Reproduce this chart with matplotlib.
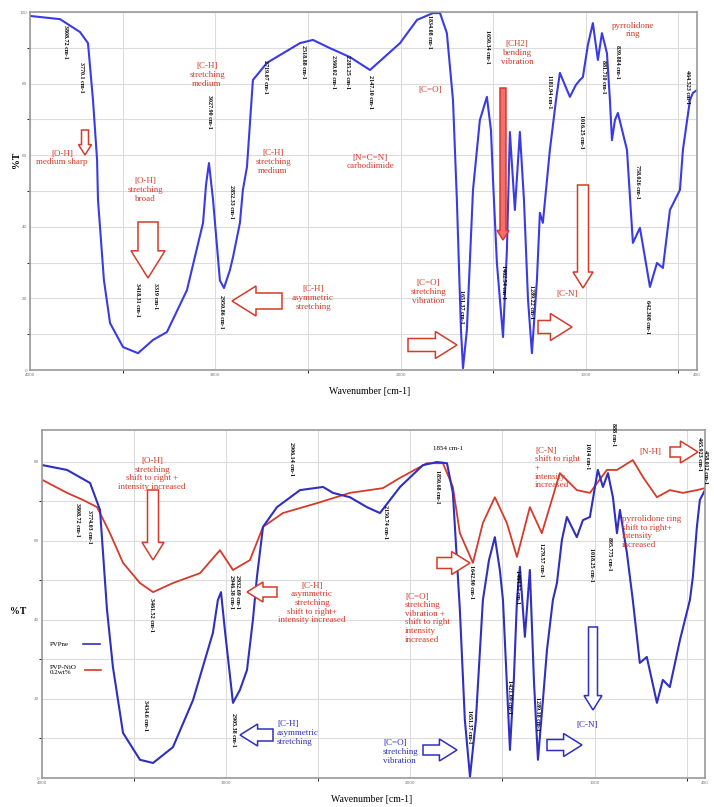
import matplotlib
matplotlib.use("Agg")
import matplotlib.pyplot as plt
from matplotlib.patches import FancyArrow

W, H = 714, 807

# spectrum 1 (top panel) - PVP
top_wn = [4000, 3838, 3730, 3687, 3660, 3638, 3633, 3601, 3568, 3498, 3417, 3336, 3261,
          3153, 3066, 3050, 3034, 3012, 2975, 2953, 2921, 2904, 2867, 2851, 2829, 2797,
          2721, 2543, 2473, 2381, 2273, 2165, 2003, 1911, 1825, 1787, 1750, 1717, 1696,
          1674, 1663, 1642, 1609, 1572, 1534, 1512, 1501, 1480, 1447, 1426, 1410, 1383,
          1356, 1334, 1312, 1291, 1264, 1248, 1232, 1194, 1161, 1140, 1113, 1086, 1054,
          1032, 1016, 989, 962, 935, 913, 886, 870, 859, 843, 827, 778, 746, 708, 654,
          616, 584, 546, 492, 476, 438, 422, 400]
top_T = [98.9, 98.0, 94.4, 91.3, 75.4, 58.7, 47.5, 25.1, 13.1, 6.4, 4.7, 8.4, 10.6,
         22.3, 41.1, 51.7, 57.8, 47.5, 25.0, 22.9, 27.9, 31.6, 41.1, 50.3, 56.7, 81.0,
         85.8, 91.3, 92.2, 89.9, 87.4, 83.8, 91.3, 97.8, 99.7, 99.7, 94.1, 75.4, 47.5,
         11.2, 0.5, 11.2, 50.3, 69.8, 76.3, 67.0, 53.1, 29.9, 9.2, 33.5, 66.5, 44.7,
         66.5, 47.5, 19.6, 4.7, 25.1, 43.9, 41.1, 61.5, 75.4, 83.0, 79.6, 76.3, 79.6,
         81.0, 81.8, 90.8, 96.9, 86.6, 94.1, 88.5, 75.4, 64.2, 69.8, 71.8, 61.5, 35.5,
         39.7, 23.2, 29.9, 28.5, 44.7, 50.3, 61.5, 75.4, 77.4, 78.2]

# spectrum 2 (bottom panel) - PVPne (blue)
bot_wn = [3995, 3864, 3739, 3685, 3647, 3615, 3560, 3468, 3397, 3289, 3180, 3072, 3045,
          3028, 3007, 2963, 2925, 2887, 2855, 2833, 2800, 2724, 2599, 2474, 2420, 2328,
          2236, 2165, 2056, 1932, 1856, 1801, 1769, 1731, 1704, 1676, 1644, 1606, 1573,
          1541, 1514, 1497, 1476, 1459, 1438, 1421, 1405, 1378, 1351, 1329, 1307, 1280,
          1258, 1226, 1204, 1177, 1150, 1096, 1063, 1025, 982, 954, 927, 900, 878, 862,
          824, 792, 754, 716, 661, 629, 591, 536, 482, 466, 444, 428, 400]
bot_T = [79.1, 77.9, 74.6, 67.8, 42.5, 28.1, 11.4, 4.6, 3.8, 7.8, 19.7, 36.7, 45.0,
         47.0, 37.4, 19.0, 22.3, 27.3, 39.9, 50.8, 63.5, 68.5, 72.8, 73.6, 72.1, 71.0,
         68.5, 67.0, 73.6, 79.1, 79.9, 79.6, 72.1, 42.5, 14.7, 0.3, 14.7, 45.0, 55.1,
         60.9, 52.6, 45.0, 24.0, 7.1, 24.8, 45.0, 53.4, 35.7, 52.6, 24.8, 4.6, 19.7,
         32.4, 45.0, 49.3, 60.2, 66.0, 60.9, 65.2, 66.0, 77.9, 73.6, 77.1, 71.0, 61.9,
         67.8, 56.9, 45.0, 29.1, 30.6, 19.0, 24.8, 23.0, 34.9, 45.0, 50.8, 63.5, 70.3, 72.8]

# PVP-NiO 0.2wt% (red)
red_wn = [3995, 3864, 3777, 3701, 3631, 3560, 3468, 3397, 3289, 3142, 3034, 2963, 2871,
          2800, 2692, 2507, 2328, 2149, 2056, 1910, 1823, 1769, 1731, 1660, 1606, 1541,
          1476, 1421, 1351, 1286, 1188, 1096, 1025, 933, 878, 792, 737, 661, 591, 520,
          444, 400]
red_T = [75.3, 72.1, 70.3, 68.5, 61.9, 54.4, 49.3, 47.0, 49.3, 51.8, 57.6, 52.6, 55.1,
         63.5, 67.0, 69.5, 72.1, 73.3, 75.9, 79.6, 79.6, 73.6, 61.9, 54.4, 64.5, 71.0,
         64.5, 55.9, 68.5, 61.9, 77.1, 72.8, 72.1, 77.9, 77.9, 80.4, 76.1, 71.0, 72.8,
         72.1, 72.8, 73.3]

BLUE1 = "#3b3be6"
BLUE2 = "#2f2fc0"
RED = "#d63a2a"
SERIF = "Liberation Serif"

fig = plt.figure(figsize=(W / 100, H / 100), dpi=100)


def fx(x):
    return x / W


def fy(y):
    return 1 - y / H


def setup(ax, ymax, yticks):
    ax.set_xlim(4000, 400)
    ax.set_ylim(0, ymax)
    ax.set_xticks([4000, 3000, 2000, 1000, 400])
    ax.set_xticks([3500, 2500, 1500, 500], minor=True)
    ax.set_yticks(yticks)
    ax.set_yticks(range(10, int(ymax), 10), minor=True)
    ax.grid(True, which="both", color="#dcdcdc", lw=0.8)
    ax.tick_params(labelsize=3, colors="#777777", length=0, pad=2)
    for s in ax.spines.values():
        s.set_color("#999999")
        s.set_linewidth(1.2)


ax1 = fig.add_axes([fx(30), fy(370), (697 - 30) / W, (370 - 12) / H])
setup(ax1, 100, range(0, 101, 20))
ax1.plot(top_wn, top_T, color=BLUE1, lw=1.5)

ax2 = fig.add_axes([fx(42), fy(778), (705 - 42) / W, (778 - 430) / H])
setup(ax2, 88, range(0, 81, 20))
ax2.plot(red_wn, red_T, color=RED, lw=1.3)
ax2.plot(bot_wn, bot_T, color=BLUE2, lw=1.5)


def txt(x, y, s, color=RED, size=6.5, ha="center", va="center", **kw):
    fig.text(fx(x), fy(y), s, color=color, fontsize=size, ha=ha, va=va,
             family=SERIF, linespacing=1.1, **kw)


def peak(x, y, s):
    fig.text(fx(x), fy(y), s, color="black", fontsize=4.3, ha="center", va="top",
             rotation=-90, family=SERIF, fontweight="bold")


def arrow(x0, y0, x1, y1, body, head, color=RED, fc="white"):
    hl = head * 0.8
    a = FancyArrow(x0 / 100, (H - y0) / 100, (x1 - x0) / 100, -(y1 - y0) / 100,
                   width=body / 100, head_width=head / 100, head_length=hl / 100,
                   length_includes_head=True, transform=fig.dpi_scale_trans,
                   fc=fc, ec=color, lw=1.1, zorder=5)
    fig.add_artist(a)


# ---- top panel annotations
for x, y, s in [(66, 25, "3808.72 cm-1"), (82, 62, "3770.1 cm-1"),
                (138, 283, "3418.31 cm-1"), (155, 283, "3319 cm-1"),
                (210, 95, "3027.90 cm-1"), (232, 185, "2852.33 cm-1"),
                (222, 295, "2950.86 cm-1"), (266, 60, "2719.07 cm-1"),
                (304, 45, "2518.88 cm-1"), (333, 55, "2360.02 cm-1"),
                (347, 55, "2285.25 cm-1"), (370, 75, "2147.10 cm-1"),
                (430, 15, "1834.08 cm-1"), (487, 30, "1650.34 cm-1"),
                (462, 290, "1651.37 cm-1"), (503, 265, "1462.54 cm-1"),
                (532, 285, "1289.22 cm-1"), (550, 75, "1181.94 cm-1"),
                (582, 115, "1016.25 cm-1"), (604, 60, "881.710 cm-1"),
                (617, 45, "839.884 cm-1"), (637, 165, "758.026 cm-1"),
                (647, 300, "642.308 cm-1"), (688, 70, "464.523 cm-1")]:
    peak(x, y, s)

txt(62, 158, "[O-H]\nmedium sharp")
txt(145, 190, "[O-H]\nstretching\nbroad")
txt(207, 75, "[C-H]\nstretching\nmedium")
txt(273, 162, "[C-H]\nstretching\nmedium")
txt(313, 298, "[C-H]\nasymmetric\nstretching")
txt(370, 162, "[N=C=N]\ncarbodiimide")
txt(430, 90, "[C=O]")
txt(428, 292, "[C=O]\nstretching\nvibration")
txt(517, 53, "[CH2]\nbending\nvibration")
txt(567, 294, "[C-N]")
txt(633, 30, "pyrrolidone\nring")

arrow(85, 130, 85, 155, 7, 13)
arrow(148, 222, 148, 278, 20, 34)
arrow(282, 301, 232, 301, 16, 30)
arrow(408, 345, 457, 345, 13, 27)
arrow(503, 88, 503, 240, 6, 12, fc="#f07070")
arrow(583, 185, 583, 288, 11, 20)
arrow(538, 327, 572, 327, 13, 27)

fig.text(fx(370), fy(392), "Wavenumber [cm-1]", fontsize=7, ha="center", va="center",
         family=SERIF)
fig.text(fx(16), fy(160), "%T", fontsize=7, ha="center", va="center", rotation=90,
         family=SERIF, fontweight="bold")

# ---- bottom panel annotations
for x, y, s in [(77, 503, "3808.72 cm-1"), (90, 510, "3774.03 cm-1"),
                (152, 598, "3461.52 cm-1"), (145, 700, "3434.6 cm-1"),
                (231, 575, "2946.38 cm-1"), (238, 575, "2932.69 cm-1"),
                (233, 713, "2905.38 cm-1"), (292, 442, "2906.14 cm-1"),
                (385, 505, "2150.74 cm-1"), (437, 470, "1850.68 cm-1"),
                (472, 565, "1642.90 cm-1"), (470, 710, "1651.37 cm-1"),
                (517, 570, "1464.52 cm-1"), (510, 680, "1421.69 cm-1"),
                (538, 697, "1289.18 cm-1"), (542, 543, "1279.57 cm-1"),
                (587, 443, "1014 cm-1"), (591, 548, "1018.25 cm-1"),
                (613, 423, "888 cm-1"), (610, 537, "895.775 cm-1"),
                (700, 437, "465.923 cm-1"), (706, 450, "458.012 cm-1")]:
    peak(x, y, s)

txt(448, 448, "1854 cm-1", color="black", size=5)

txt(152, 474, "[O-H]\nstretching\nshift to right +\nintensity increased")
txt(312, 603, "[C-H]\nasymmetric\nstretching\nshift to right+\nintensity increased")
txt(405, 618, "[C=O]\nstretching\nvibration +\nshift to right\nintensity\nincreased",
    ha="left")
txt(535, 468, "[C-N]\nshift to right\n+\nintensity\nincreased", ha="left")
txt(650, 452, "[N-H]")
txt(622, 532, "pyrrolidone ring\nshift to right+\nintensity\nincreased", ha="left")

txt(277, 733, "[C-H]\nasymmetric\nstretching", color=BLUE2, ha="left")
txt(383, 752, "[C=O]\nstretching\nvibration", color=BLUE2, ha="left")
txt(587, 725, "[C-N]", color=BLUE2)

arrow(153, 490, 153, 560, 11, 22)
arrow(277, 592, 247, 592, 10, 20)
arrow(437, 563, 470, 563, 11, 23)
arrow(670, 452, 698, 452, 10, 22)
arrow(273, 735, 240, 735, 12, 22, color=BLUE2)
arrow(423, 750, 457, 750, 10, 22, color=BLUE2)
arrow(547, 745, 582, 745, 11, 23, color=BLUE2)
arrow(593, 627, 593, 710, 9, 18, color=BLUE2)

# legend
txt(50, 644, "PVPne", color="black", size=5, ha="left")
txt(50, 670, "PVP-NiO\n0.2wt%", color="black", size=5, ha="left")
fig.add_artist(plt.Line2D([fx(83), fx(100)], [fy(644), fy(644)], color=BLUE2, lw=1.2))
fig.add_artist(plt.Line2D([fx(85), fx(101)], [fy(670), fy(670)], color=RED, lw=1.2))

fig.text(fx(18), fy(612), "%T", fontsize=7, ha="center", va="center", family=SERIF,
         fontweight="bold")
fig.text(fx(372), fy(800), "Wavenumber [cm-1]", fontsize=7, ha="center", va="center",
         family=SERIF)

fig.savefig("out.png", dpi=100)
